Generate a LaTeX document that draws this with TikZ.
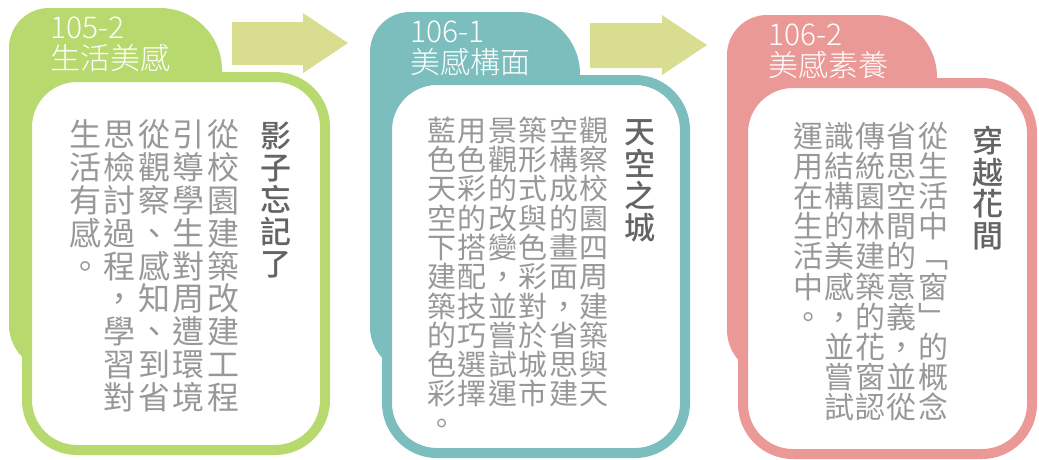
\documentclass[tikz,border=0pt]{standalone}
\usepackage{fontspec}
\newfontfamily\cjk{Noto Sans CJK TC}
\newfontfamily\cjkmed{Noto Sans CJK TC}[UprightFont=* Medium]
\newfontfamily\cjklight{Noto Sans CJK TC}[UprightFont=* Light]
\definecolor{grn}{RGB}{183,217,110}
\definecolor{tealc}{RGB}{123,190,189}
\definecolor{pnk}{RGB}{234,153,150}
\definecolor{arw}{RGB}{217,221,143}
\definecolor{bodyg}{RGB}{152,152,152}
\definecolor{titleg}{RGB}{100,100,100}
\ExplSyntaxOn
\NewDocumentCommand\vcol{m m}{
  \vbox{
    \baselineskip=#1\relax
    \lineskiplimit=-\maxdimen
    \lineskip=0pt
    \tl_map_inline:nn {#2} { \hbox_to_wd:nn {1.05em} { \hss \rule{0pt}{0.88em} ##1 \hss } }
  }
}
\ExplSyntaxOff
\tikzset{
  col/.style={inner sep=0pt, anchor=north, text=bodyg},
  ttl/.style={inner sep=0pt, anchor=north, text=titleg},
  tablabel/.style={inner sep=0pt, anchor=north west, align=left, text=white,
    font=\cjklight\fontsize{30pt}{31pt}\selectfont},
  frontbox/.style={line width=10pt, fill=white, rounded corners=50pt},
}
\begin{document}
\begin{tikzpicture}[x=1pt,y=1pt]
\useasboundingbox (0,0) rectangle (1039,-459);
% ---------- arrows
\fill[arw] (232,-22) -- (303,-22) -- (303,-13) -- (348,-43) -- (303,-73) -- (303,-65) -- (232,-65) -- cycle;
\fill[arw] (590,-23) -- (662,-23) -- (662,-15) -- (707,-45) -- (662,-75) -- (662,-68) -- (590,-68) -- cycle;
% ---------- panel 1
\fill[grn] (222,-370) -- (54,-370) arc[start angle=270,end angle=180,radius=45]
  -- (9,-48) arc[start angle=180,end angle=90,radius=40]
  -- (160,-8) arc[start angle=90,end angle=0,radius=62] -- (222,-370) -- cycle;
\draw[frontbox, draw=grn] (27,-77) rectangle (325,-450);
\node[tablabel] (t1) at (50,-17) {105-2\\生活美感};
\node[ttl, font=\cjkmed\fontsize{31pt}{31pt}\selectfont] (h1) at (276,-120.5) {\vcol{32pt}{影子忘記了}};
\begin{scope}[every node/.style={col, font=\cjk\fontsize{32pt}{32pt}\selectfont}]
\node (a1) at (223,-118.5) {\vcol{32.8pt}{從校園建築改建工程}};
\node (a2) at (188.5,-118.5) {\vcol{32.8pt}{引導學生對周遭環境}};
\node (a3) at (154,-118.5) {\vcol{32.8pt}{從觀察、感知、到省}};
\node (a4) at (119.5,-118.5) {\vcol{32.8pt}{思檢討過程，學習對}};
\node (a5) at (85,-118.5) {\vcol{32.8pt}{生活有感。}};
\end{scope}
% ---------- panel 2
\fill[tealc] (580,-372) -- (415,-372) arc[start angle=270,end angle=180,radius=45]
  -- (370,-52) arc[start angle=180,end angle=90,radius=40]
  -- (518,-12) arc[start angle=90,end angle=0,radius=62] -- (580,-372) -- cycle;
\draw[frontbox, draw=tealc] (387,-80) rectangle (685,-453);
\node[tablabel] (t2) at (410,-21) {106-1\\美感構面};
\node[ttl, font=\cjkmed\fontsize{31pt}{31pt}\selectfont] (h2) at (640,-116.5) {\vcol{32pt}{天空之城}};
\begin{scope}[every node/.style={col, font=\cjk\fontsize{29pt}{29pt}\selectfont}]
\node (b1) at (594,-115.5) {\vcol{29.3pt}{觀察校園四周建築與天}};
\node (b2) at (563.6,-115.5) {\vcol{29.3pt}{空構成的畫面，省思建}};
\node (b3) at (533.2,-115.5) {\vcol{29.3pt}{築形式與色彩對於城市}};
\node (b4) at (502.8,-115.5) {\vcol{29.3pt}{景觀的改變，並嘗試運}};
\node (b5) at (472.4,-115.5) {\vcol{29.3pt}{用色彩的搭配技巧選擇}};
\node (b6) at (442,-115.5) {\vcol{29.3pt}{藍色天空下建築的色彩。}};
\end{scope}
% ---------- panel 3
\fill[pnk] (937,-375) -- (772,-375) arc[start angle=270,end angle=180,radius=45]
  -- (727,-55) arc[start angle=180,end angle=90,radius=40]
  -- (875,-15) arc[start angle=90,end angle=0,radius=62] -- (937,-375) -- cycle;
\draw[frontbox, draw=pnk] (743,-83) rectangle (1032,-454);
\node[tablabel] (t3) at (768,-24) {106-2\\美感素養};
\node[ttl, font=\cjkmed\fontsize{31pt}{31pt}\selectfont] (h3) at (988,-125.5) {\vcol{31.5pt}{穿越花間}};
\begin{scope}[every node/.style={col, font=\cjk\fontsize{30pt}{30pt}\selectfont}]
\node (c1) at (933,-120.5) {\vcol{30.2pt}{從生活中﹁窗﹂的概念}};
\node (c2) at (901.8,-120.5) {\vcol{30.2pt}{省思空間的意義，並從}};
\node (c3) at (870.6,-120.5) {\vcol{30.2pt}{傳統園林建築的花窗認}};
\node (c4) at (839.4,-120.5) {\vcol{30.2pt}{識結構的美感，並嘗試}};
\node (c5) at (808.2,-120.5) {\vcol{30.2pt}{運用在生活中。}};
\end{scope}
\end{tikzpicture}
\end{document}
